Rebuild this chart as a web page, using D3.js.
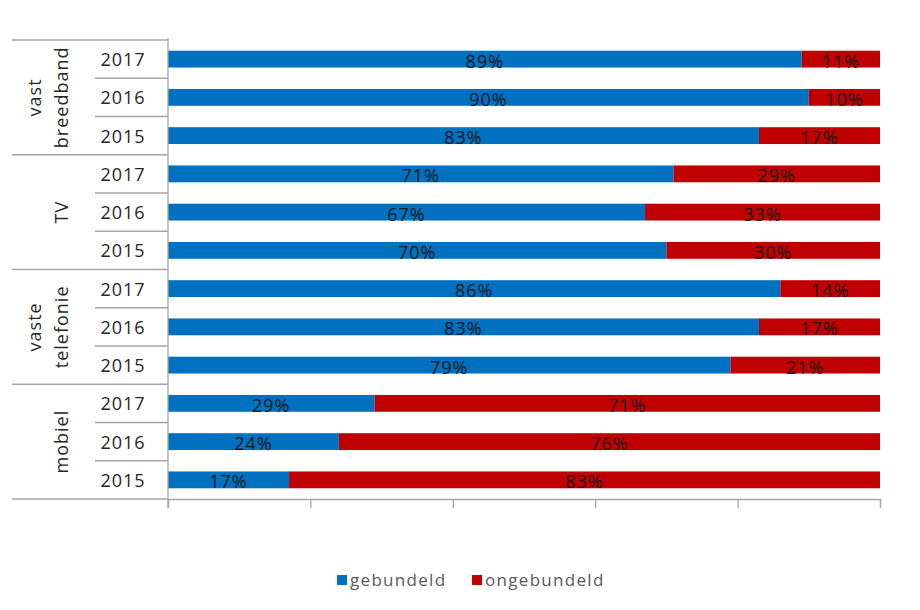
<!DOCTYPE html>
<html>
<head>
<meta charset="utf-8">
<script src="https://cdn.jsdelivr.net/npm/d3@7"></script>
<style>
  html, body { margin: 0; padding: 0; background: #fff; }
  svg { display: block; font-family: "Open Sans", Lato, "Liberation Sans", sans-serif; }
</style>
</head>
<body>
<svg id="chart" width="920" height="610"></svg>
<script>
// Categories, years and shares (percent) per row, top to bottom
const groups = [["vast", "breedband"], ["TV"], ["vaste", "telefonie"], ["mobiel"]];
const years = ["2017", "2016", "2015"];
const gebundeld   = [89, 90, 83, 71, 67, 70, 86, 83, 79, 29, 24, 17];
const ongebundeld = [11, 10, 17, 29, 33, 30, 14, 17, 21, 71, 76, 83];
const xTicks = [0, 20, 40, 60, 80, 100];
const seriesNames = ["gebundeld", "ongebundeld"];
const seriesColors = ["#0070C0", "#C00000"];

const rows = [];
groups.forEach((g, gi) => years.forEach((yr, yi) => {
  const i = gi * years.length + yi;
  rows.push({ id: i, group: gi, year: yr, g: gebundeld[i], o: ongebundeld[i] });
}));

const svg = d3.select("#chart");
const plotLeft = 168, plotRight = 880, plotTop = 40, plotBottom = 499;
const lineColor = "#A6A6A6";

const x = d3.scaleLinear().domain([0, 100]).range([plotLeft, plotRight]);
const y = d3.scaleBand().domain(rows.map(r => r.id)).range([plotTop, plotBottom]).paddingInner(0.56).paddingOuter(0.28);
const step = y.step();

// Stacked bars
const segs = [];
rows.forEach(r => {
  segs.push({ id: r.id, x0: 0, x1: r.g, v: r.g, c: seriesColors[0] });
  segs.push({ id: r.id, x0: r.g, x1: r.g + r.o, v: r.o, c: seriesColors[1] });
});
svg.append("g").selectAll("rect").data(segs).join("rect")
  .attr("x", d => x(d.x0))
  .attr("width", d => x(d.x1) - x(d.x0))
  .attr("y", d => y(d.id))
  .attr("height", y.bandwidth())
  .attr("fill", d => d.c);

// Value labels centred in each segment
svg.append("g").selectAll("text").data(segs).join("text")
  .attr("x", d => (x(d.x0) + x(d.x1)) / 2)
  .attr("y", d => y(d.id) + y.bandwidth() / 2 + 8.5)
  .attr("text-anchor", "middle")
  .attr("font-size", 18)
  .attr("letter-spacing", 1)
  .attr("fill", "#1a1a1a")
  .text(d => d.v + "%");

// Bottom axis with tick marks, no labels
const axis = svg.append("g").attr("transform", `translate(0,${plotBottom})`)
  .call(d3.axisBottom(x).tickValues(xTicks).tickFormat("").tickSizeInner(9).tickSizeOuter(9));
axis.selectAll("path, line").attr("stroke", lineColor).attr("stroke-width", 1.3);

// Extended baseline and vertical category axis
svg.append("line").attr("x1", 12).attr("x2", plotLeft).attr("y1", plotBottom).attr("y2", plotBottom)
  .attr("stroke", lineColor).attr("stroke-width", 1.3);
svg.append("line").attr("x1", plotLeft).attr("x2", plotLeft).attr("y1", plotTop - 2).attr("y2", plotBottom + 9)
  .attr("stroke", lineColor).attr("stroke-width", 1.3);

// Group separators (full width of label area) and year separators (year column only)
groups.forEach((g, gi) => {
  const yTop = plotTop + gi * years.length * step;
  svg.append("line").attr("x1", 12).attr("x2", plotLeft).attr("y1", yTop).attr("y2", yTop)
    .attr("stroke", lineColor).attr("stroke-width", 1.3);
  for (let k = 1; k < years.length; k++) {
    const yy = yTop + k * step;
    svg.append("line").attr("x1", 95).attr("x2", plotLeft).attr("y1", yy).attr("y2", yy)
      .attr("stroke", lineColor).attr("stroke-width", 1.3);
  }
  // Rotated group label: last line sits next to the year column
  const cy = yTop + years.length * step / 2;
  const lineH = 27;
  const t = svg.append("text")
    .attr("transform", `translate(61,${cy}) rotate(-90)`)
    .attr("text-anchor", "middle")
    .attr("font-size", 18)
    .attr("letter-spacing", 1)
    .attr("fill", "#262626");
  g.forEach((ln, li) => {
    t.append("tspan").attr("x", 0)
      .attr("y", (li - (g.length - 1)) * lineH + 7)
      .text(ln);
  });
});

// Year labels
svg.append("g").selectAll("text").data(rows).join("text")
  .attr("x", 123)
  .attr("y", d => y(d.id) + y.bandwidth() / 2 + 7)
  .attr("text-anchor", "middle")
  .attr("font-size", 18)
  .attr("letter-spacing", 1)
  .attr("fill", "#262626")
  .text(d => d.year);

// Legend
const legend = svg.append("g").attr("transform", "translate(337,580)");
const legendX = [0, 135];
seriesNames.forEach((name, i) => {
  const lg = legend.append("g").attr("transform", `translate(${legendX[i]},0)`);
  lg.append("rect").attr("x", 0).attr("y", -5).attr("width", 10).attr("height", 10).attr("fill", seriesColors[i]);
  lg.append("text").attr("x", 13).attr("y", 6).attr("font-size", 17).attr("letter-spacing", 1.3)
    .attr("fill", "#595959").text(name);
});
</script>
</body>
</html>
